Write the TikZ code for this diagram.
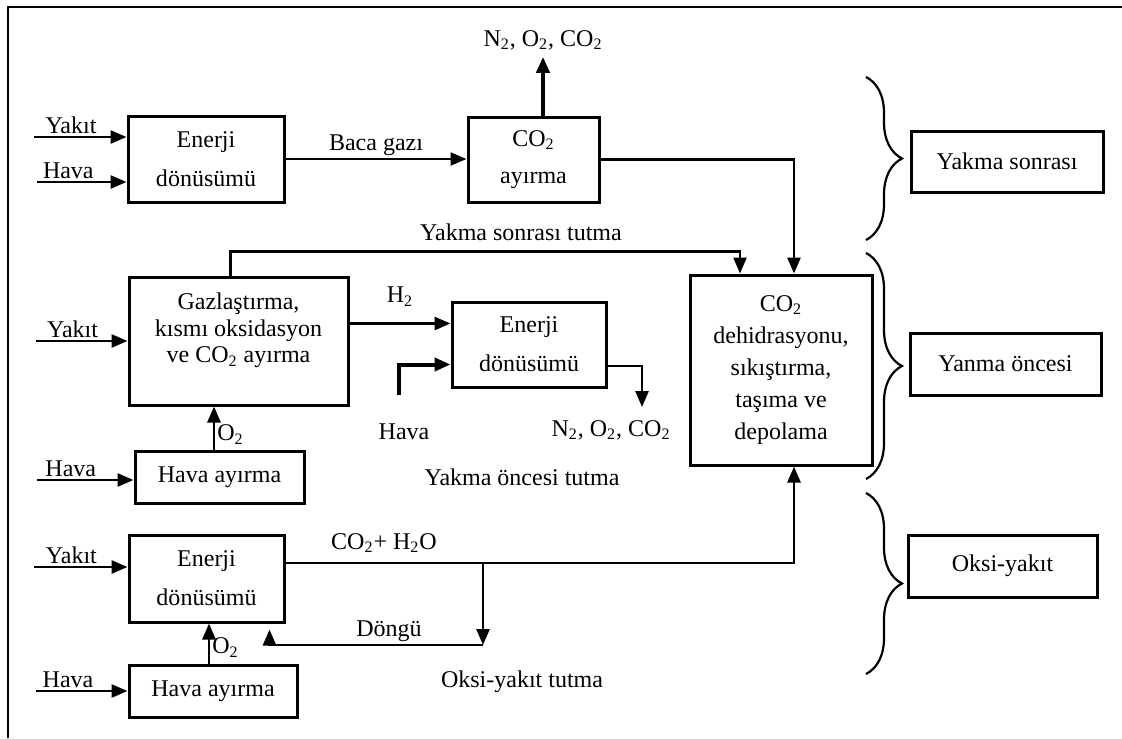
\documentclass[tikz,border=0pt]{standalone}
\usepackage{fontspec}
\setmainfont{Liberation Serif}
\usetikzlibrary{arrows.meta,calc,decorations.pathreplacing}
\newcommand{\ix}[1]{\textsubscript{#1}}

\begin{document}
\begin{tikzpicture}[x=0.5pt,y=-0.5pt,font=\fontsize{12}{13.5}\selectfont,
  blok/.style={draw, line width=1.5pt, align=center, inner sep=0pt},
  flow/.style={line width=1.4pt, -{Triangle[length=8pt,width=6.5pt]}},
  ince/.style={flow, line width=1.1pt},
  kalin/.style={flow, line width=2pt},
  yazi/.style={above, inner sep=1pt},
  parantez/.style={decorate, decoration={brace, amplitude=18pt}, line width=1.1pt}]
  \useasboundingbox (0,0) rectangle (1122,738);
  \draw[line width=1pt] (7.5,738) -- (7.5,7.5) -- (1122,7.5);

  % kutular
  \node[blok, minimum width=78pt, minimum height=43pt] (enerjiA) at (206,159) {Enerji\\[6pt]dönüsümü};
  \node[blok, minimum width=65.5pt, minimum height=42.5pt] (ayirmaA) at (533.5,159.5) {CO\ix{2}\\[5pt]ayırma};
  \node[blok, minimum width=96pt, minimum height=30.5pt] (yakmaS) at (1007,161.5) {Yakma sonrası};
  \node[blok, minimum width=109.5pt, minimum height=64pt, font=\fontsize{12}{13.25}\selectfont] (gaz) at (238.5,341) {Gazlaştırma,\\kısmı oksidasyon\\ve CO\ix{2} ayırma\\\mbox{}};
  \node[blok, minimum width=77pt, minimum height=42.5pt] (enerjiB) at (529,344.5) {Enerji\\[6pt]dönüsümü};
  \node[blok, minimum width=84.5pt, minimum height=26pt] (havaA) at (219.5,477) {Hava ayırma};
  \node[blok, minimum width=91pt, minimum height=95pt, font=\fontsize{12}{16}\selectfont] (depo) at (781,370) {CO\ix{2}\\dehidrasyonu,\\sıkıştırma,\\taşıma ve\\depolama};
  \node[blok, minimum width=95.5pt, minimum height=31pt] (yanmaO) at (1005.5,364) {Yanma öncesi};
  \node[blok, minimum width=77.5pt, minimum height=43.5pt] (enerjiC) at (206.5,578.5) {Enerji\\[6pt]dönüsümü};
  \node[blok, minimum width=84pt, minimum height=26pt] (havaB) at (213,691) {Hava ayırma};
  \node[blok, minimum width=94.5pt, minimum height=31pt] (oksi) at (1002.5,566) {Oksi-yakıt};

  % yazilar
  \node (outA) at (543,40) {N\ix{2}, O\ix{2}, CO\ix{2}};
  \node (tutS) at (521,232) {Yakma sonrası tutma};
  \node (outB) at (611,430) {N\ix{2}, O\ix{2}, CO\ix{2}};
  \node (havaLbl) at (404,432) {Hava};
  \node (tutO) at (522,477) {Yakma öncesi tutma};
  \node (suLbl) at (384,543) {CO\ix{2}+ H\ix{2}O};
  \node (tutK) at (522,682) {Oksi-yakıt tutma};

  % yakma sonrasi
  \coordinate (yakitA) at (34,137);
  \coordinate (havaAs) at (37,182);
  \coordinate (inS) at ($(depo.north)+(13,0)$);
  \coordinate (inP) at ($(depo.north)+(-41,0)$);
  \draw[flow] (yakitA) -- (yakitA -| enerjiA.west) node[yazi, pos=0.4] {Yakıt};
  \draw[flow] (havaAs) -- (havaAs -| enerjiA.west) node[yazi, pos=0.35] {Hava};
  \draw[ince] (enerjiA.east) -- (enerjiA.east -| ayirmaA.west) node[yazi, midway] {Baca gazı};
  \draw[kalin] (ayirmaA.north -| outA) -- (outA.south);
  \draw[flow] (ayirmaA.east) -| (inS);

  % yakma oncesi
  \coordinate (yakitB) at (36,341);
  \coordinate (hIn) at ($(enerjiB.west)+(0,-21)$);
  \coordinate (havaCs) at (399,395);
  \coordinate (eB) at ($(enerjiB.east)+(0,21.5)$);
  \coordinate (outBt) at (642,407);
  \coordinate (havaBs) at (37,480);
  \draw[flow] (yakitB) -- (gaz.west) node[yazi, pos=0.4] {Yakıt};
  \draw[ince] ([xshift=-4pt]gaz.north) -- ++(0,-24) -| (inP);
  \draw[flow] (gaz.east |- hIn) -- (hIn) node[yazi, midway, yshift=7pt] {H\ix{2}};
  \draw[kalin] (havaCs) |- ($(enerjiB.west)+(0,20)$);
  \draw[flow] (eB) -| (outBt);
  \draw[flow] ([xshift=-2.75pt]havaA.north) -- ([xshift=-2.75pt]havaA.north |- gaz.south) node[right, pos=0.35, inner sep=1pt] {O\ix{2}};
  \draw[flow] (havaBs) -- (havaBs -| havaA.west) node[yazi, pos=0.35] {Hava};

  % oksi-yakit
  \coordinate (yakitC) at (34,567);
  \coordinate (eC) at ($(enerjiC.east)+(0,-15.5)$);
  \coordinate (outP) at ($(depo.south)+(13,0)$);
  \coordinate (br) at (483,563);
  \coordinate (brEnd) at (483,645);
  \coordinate (ret) at ($(enerjiC.south east)+(-16,6)$);
  \coordinate (havaDs) at (36,691);
  \draw[flow] (yakitC) -- (yakitC -| enerjiC.west) node[yazi, pos=0.4] {Yakıt};
  \draw[flow] (eC) -| (outP);
  \draw[flow] (br) -- (brEnd);
  \draw[flow] (brEnd) -| (ret) node[yazi, pos=0.22] {Döngü};
  \draw[flow] ([xshift=-2pt]havaB.north) -- ([xshift=-2pt]havaB.north |- enerjiC.south) node[right, pos=0.4, inner sep=1pt] {O\ix{2}};
  \draw[flow] (havaDs) -- (havaB.west) node[yazi, pos=0.35] {Hava};

  % parantezler
  \draw[parantez] (866,77) -- (866,240);
  \draw[parantez] (866,253) -- (866,479);
  \draw[parantez] (866,493) -- (866,674);
\end{tikzpicture}
\end{document}
